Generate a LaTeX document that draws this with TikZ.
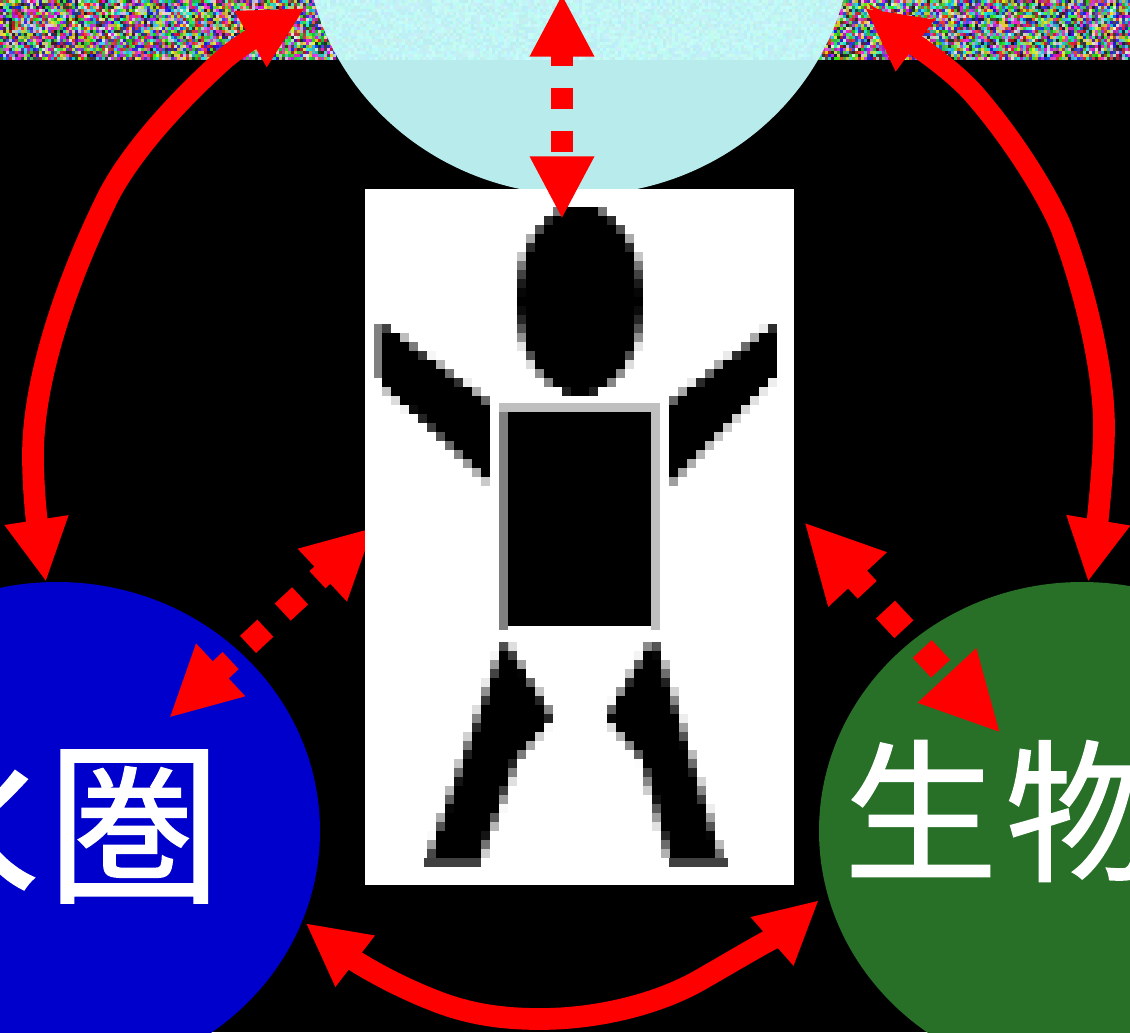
\documentclass[tikz,border=0pt]{standalone}
\usepackage{fontspec}
\usepackage{tikz}
\usetikzlibrary{shapes.geometric,arrows.meta}
\newfontfamily\cjk[FakeBold=1]{Noto Sans CJK JP}
\definecolor{skycolor}{RGB}{199,254,254}
\definecolor{watercolor}{RGB}{0,0,204}
\definecolor{biocolor}{RGB}{40,112,40}
\tikzstyle{sphere}=[ellipse,inner sep=0pt,minimum width=394.5pt,minimum height=373.5pt]
\tikzstyle{spheretext}=[inner sep=0pt,text=white]
\tikzstyle{curvearrow}=[red,line width=16.3pt,{Triangle[length=47pt,width=45pt]}-{Triangle[length=47pt,width=45pt]}]
\newcommand{\tikzpicunit}{0.75pt}
\newcommand{\pixelcol}[3]{
    \pgfmathsetmacro{\pixA}{207+9*floor((#2-207)/9)}
    \pgfmathsetmacro{\pixB}{207+9*ceil((#2-207)/9)}
    \pgfmathsetmacro{\pixC}{207+9*floor((#3-207)/9)}
    \pgfmathsetmacro{\pixE}{100*(\pixB-(#2))/9}
    \pgfmathsetmacro{\pixF}{100*((#3)-\pixC)/9}
    \fill[black!\pixE] (#1,\pixA) rectangle ++(9,9);
    \fill[black!\pixF] (#1,\pixC) rectangle ++(9,9);
    \fill[black] (#1,\pixB) rectangle (#1+9,\pixC);
}
\newcommand{\pixelrow}[3]{
    \pgfmathsetmacro{\pixA}{4+9*floor(((#2)-4)/9)}
    \pgfmathsetmacro{\pixB}{4+9*ceil(((#2)-4)/9)}
    \pgfmathsetmacro{\pixC}{4+9*floor(((#3)-4)/9)}
    \pgfmathsetmacro{\pixE}{100*(\pixB-(#2))/9}
    \pgfmathsetmacro{\pixF}{100*((#3)-\pixC)/9}
    \fill[black!\pixE] (\pixA,#1) rectangle ++(9,9);
    \fill[black!\pixF] (\pixC,#1) rectangle ++(9,9);
    \fill[black] (\pixB,#1) rectangle (\pixC,#1+9);
}

\begin{document}
\begin{tikzpicture}[x=\tikzpicunit,y=-\tikzpicunit]
    \useasboundingbox (0,0) rectangle (1130,1032);
    \clip (0,0) rectangle (1130,1032);
    \fill[black] (0,0) rectangle (1130,1032);
    \pgfmathsetseed{7}
    \foreach \i in {0,...,376}{
        \foreach \j in {0,...,19}{
            \pgfmathsetmacro{\noiseR}{0.05+0.6*round(rnd)+0.3*rnd}
            \pgfmathsetmacro{\noiseG}{0.05+0.6*round(rnd)+0.3*rnd}
            \pgfmathsetmacro{\noiseB}{0.05+0.6*round(rnd)+0.3*rnd}
            \definecolor{noisecolor}{rgb}{\noiseR,\noiseG,\noiseB}
            \fill[noisecolor] (3*\i,3*\j) rectangle ++(3,3);
        }
    }
    \node[sphere,fill=skycolor,fill opacity=0.93] (sky) at (578.5,-68) [minimum width=411pt,minimum height=394.5pt] {};
    \node[sphere,fill=watercolor] (water) at (57,831) {};
    \node[sphere,fill=biocolor] (bio) at (1082,831) {};
    \node[spheretext,font=\cjk\fontsize{131pt}{131pt}\selectfont] (watertext) at (43,823) {水\kern6pt圏};
    \node[spheretext,font=\cjk\fontsize{115pt}{115pt}\selectfont] (biotext) at (1078,811) {生\kern6pt物圏};

    \coordinate (leftfig) at (374,527);
    \coordinate (leftwater) at (169,718);
    \draw[red,line width=17.6pt,dash pattern=on 17.8pt off 17.8pt,dash phase=4.3pt,
        {Triangle[length=53pt,width=50pt]}-{Triangle[length=53pt,width=50pt]}] (leftwater) -- (leftfig);

    \node[fill=white,inner sep=0pt,minimum width=321.75pt,minimum height=522pt] (figure) at (579.5,537) {};
    \foreach \r in {0,...,20}{
        \pgfmathsetmacro{\headw}{63*sqrt(max(0,1-((207+9*\r+4.5-300)/95)^2))}
        \pixelrow{207+9*\r}{580-\headw}{580+\headw}
    }
    \fill[black!50] (499,412) rectangle (508,630);
    \fill[black!25] (651,412) rectangle (660,630);
    \fill[black!25] (499,403) rectangle (660,412);
    \fill[black] (508,412) rectangle (651,626);
    \fill[black!50] (374,324) rectangle (383,378);
    \foreach \c in {0,...,11}{
        \pgfmathsetmacro{\armx}{382+9*\c}
        \pixelcol{\armx}{323+(\armx+4.5-382)*0.741}{385+(\armx+4.5-382)*0.907}
    }
    \foreach \c in {0,...,11}{
        \pgfmathsetmacro{\armx}{669+9*\c}
        \pixelcol{\armx}{403-(\armx+4.5-669)*0.748}{485-(\armx+4.5-669)*1.028}
    }
    \foreach \r in {0,...,23}{
        \pgfmathsetmacro{\legy}{642+9*\r}
        \pgfmathsetmacro{\legm}{\legy+4.5}
        \pgfmathsetmacro{\legl}{503-(\legm-643)*0.349}
        \pgfmathsetmacro{\legr}{\legm<717 ? 507+(\legm-643)*0.62 : (\legm<760 ? 553-(\legm-717)*0.837 : 517-(\legm-760)*0.367)}
        \pixelrow{\legy}{\legl}{\legr}
        \pgfmathsetmacro{\legl}{\legm<717 ? 650-(\legm-643)*0.595 : (\legm<760 ? 606+(\legm-717)*0.837 : 642+(\legm-760)*0.27)}
        \pgfmathsetmacro{\legr}{657+(\legm-643)*0.3}
        \pixelrow{\legy}{\legl}{\legr}
    }
    \fill[black!75] (424,858) rectangle (481,867);
    \fill[black!75] (669,858) rectangle (728,867);

    \coordinate (topsky) at (562,-6);
    \coordinate (topfig) at (562,219);
    \draw[red,line width=16.3pt,dash pattern=on 16.3pt off 16pt,dash phase=6.2pt,
        {Triangle[length=47pt,width=45pt]}-{Triangle[length=47pt,width=45pt]}] (topsky) -- (topfig);

    \coordinate (rightfig) at (804,522);
    \coordinate (rightbio) at (1000.5,733);
    \draw[red,line width=19.5pt,dash pattern=on 20.2pt off 20.2pt,dash phase=6pt,
        {Triangle[length=59pt,width=55.5pt]}-{Triangle[length=59pt,width=55.5pt]}] (rightfig) -- (rightbio);

    \coordinate (skyleft) at (305,8);
    \coordinate (waterleft) at (46,582);
    \draw[curvearrow] (waterleft) .. controls (38,530) and (33,495) .. (33,455)
        .. controls (33,375) and (70,275) .. (105,203)
        .. controls (125,160) and (170,108) .. (223,60)
        .. controls (240,45) and (270,28) .. (skyleft);

    \coordinate (skyright) at (865,8);
    \coordinate (bioright) at (1088,582);
    \draw[curvearrow] (bioright) .. controls (1095,540) and (1104,470) .. (1104,427)
        .. controls (1104,370) and (1085,290) .. (1061,227)
        .. controls (1045,190) and (1010,135) .. (973,93)
        .. controls (950,67) and (905,38) .. (skyright);

    \coordinate (waterbottom) at (305.5,923);
    \coordinate (biobottom) at (819,900);
    \draw[curvearrow] (waterbottom) .. controls (325,938) and (345,955) .. (360,964)
        .. controls (385,979) and (410,991) .. (433,1000)
        .. controls (470,1015) and (505,1019) .. (540,1019)
        .. controls (600,1019) and (660,1003) .. (700,980)
        .. controls (735,960) and (785,930) .. (biobottom);
\end{tikzpicture}
\end{document}
